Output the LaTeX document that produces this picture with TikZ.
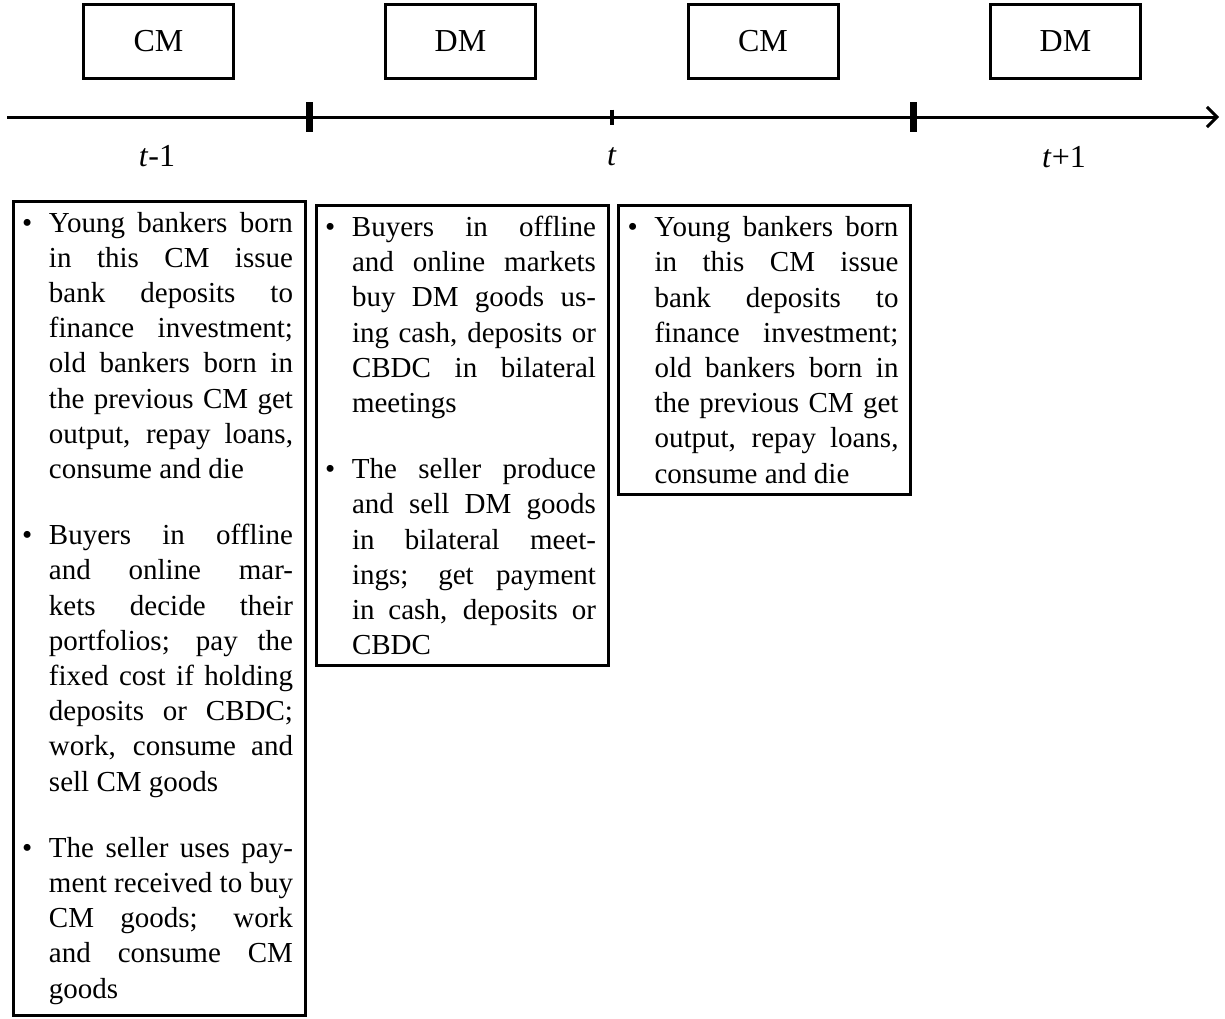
\documentclass[tikz,border=0pt]{standalone}
\usepackage{fontspec}
\setmainfont{Liberation Serif}
\usetikzlibrary{arrows.meta}

\tolerance=10000
\hyphenpenalty=10000
\exhyphenpenalty=10000

\newcommand{\bitem}{\noindent\hangindent=12pt\hangafter=1\makebox[12pt][l]{\hspace{-1.5pt}\textbullet}}
\newcommand{\itemgap}{\par\vspace{15.5pt}}

\tikzset{
  period/.style={draw, line width=1.5pt, minimum width=75pt, minimum height=37pt, inner sep=0pt, font=\fontsize{16pt}{19pt}\selectfont},
  events/.style={draw, line width=1.5pt, anchor=north west, text width=134pt, inner xsep=6pt, inner ysep=5.5pt, align=justify, font=\fontsize{14.5pt}{17.6pt}\selectfont},
  ticklabel/.style={anchor=base, font=\fontsize{16pt}{19pt}\selectfont}
}

\begin{document}
\begin{tikzpicture}[x=0.5pt, y=-0.5pt]
			\useasboundingbox (0,0) rectangle (1225,1018);
			
			% Markets in each period
			\node[period] (cm1) at (158.5,41.5) {CM};
			\node[period] (dm1) at (460.5,41.5) {DM};
			\node[period] (cm2) at (763,41.5) {CM};
			\node[period] (dm2) at (1065.5,41.5) {DM};
			
			% Time line
			\coordinate (start) at (7,117);
			\coordinate (end) at (1219,117);
			\coordinate (tickA) at (309,117);
			\coordinate (tickB) at (612,117);
			\coordinate (tickC) at (913,117);
			\draw[line width=1.5pt, -{Straight Barb[length=5pt,width=10pt]}] (start) -- (end);
			\draw[line width=3.5pt] ([yshift=7.5pt]tickA) -- ([yshift=-7.5pt]tickA);
			\draw[line width=2pt] ([yshift=3.75pt]tickB) -- ([yshift=-3.75pt]tickB);
			\draw[line width=3.5pt] ([yshift=7.5pt]tickC) -- ([yshift=-7.5pt]tickC);
			
			% Period labels
			\node[ticklabel] (tprev) at (157,166) {\textit{t}-1};
			\node[ticklabel] (tnow) at (612,165) {\textit{t}};
			\node[ticklabel] (tnext) at (1064,167) {\textit{t}+1};
			
			% What happens in the CM
			\node[events] (cmevents) at (11.5,199.5) {\bitem Young bankers born\linebreak in this CM issue\linebreak bank deposits to\linebreak finance investment;\linebreak old bankers born in\linebreak the previous CM get\linebreak output, repay loans,\linebreak consume and die
				\itemgap\bitem Buyers in offline\linebreak and online mar-\linebreak kets decide their\linebreak portfolios; pay the\linebreak fixed cost if holding\linebreak deposits or CBDC;\linebreak work, consume and\linebreak sell CM goods
				\itemgap\bitem The seller uses pay-\linebreak ment received to buy\linebreak CM goods; work\linebreak and consume CM\linebreak goods\par};
			
			% What happens in the DM
			\node[events] (dmevents) at (314.5,203.5) {\bitem Buyers in offline\linebreak and online markets\linebreak buy DM goods us-\linebreak ing cash, deposits or\linebreak CBDC in bilateral\linebreak meetings
				\itemgap\bitem The seller produce\linebreak and sell DM goods\linebreak in bilateral meet-\linebreak ings; get payment\linebreak in cash, deposits or\linebreak CBDC\par};
			
			% Next CM
			\node[events] (cmnext) at (617,204) {\bitem Young bankers born\linebreak in this CM issue\linebreak bank deposits to\linebreak finance investment;\linebreak old bankers born in\linebreak the previous CM get\linebreak output, repay loans,\linebreak consume and die\par};
			
		\end{tikzpicture}
\end{document}
